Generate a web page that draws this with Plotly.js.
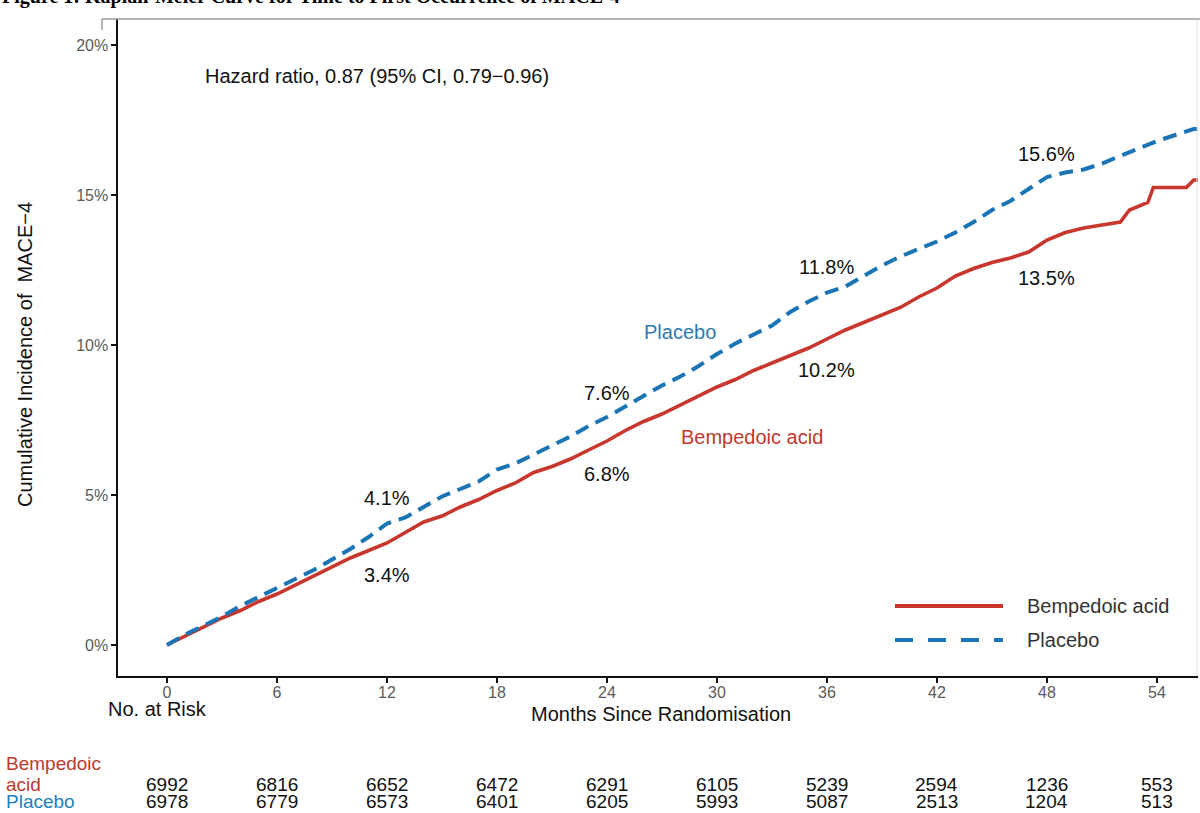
<!DOCTYPE html>
<html>
<head>
<meta charset="utf-8">
<script src="https://cdn.plot.ly/plotly-3.0.1.min.js"></script>
<style>html,body{margin:0;padding:0;background:#fff;}#chart{width:1200px;height:813px;}</style>
</head>
<body>
<div id="chart"></div>
<script>
// ---- Data ----
const bempMonths = [0,1,2,3,4,5,6,7,8,9,10,11,12,13,14,15,16,17,18,19,20,21,22,23,24,25,26,27,28,29,30,31,32,33,34,35,36,37,38,39,40,41,42,43,44,45,46,47,47.8,48,49,50,51,52,52.5,53.5,53.8,55.6,56.0,56.4];
const bempPct    = [0,0.3,0.6,0.9,1.15,1.45,1.7,2.0,2.3,2.6,2.9,3.15,3.4,3.75,4.1,4.3,4.6,4.85,5.15,5.4,5.75,5.95,6.2,6.5,6.8,7.15,7.45,7.7,8.0,8.3,8.6,8.85,9.15,9.4,9.65,9.9,10.2,10.5,10.75,11.0,11.25,11.6,11.9,12.3,12.55,12.75,12.9,13.1,13.4,13.5,13.75,13.9,14.0,14.1,14.5,14.75,15.25,15.25,15.5,15.5];
const placMonths = [0,1,2,3,4,5,6,7,8,9,10,11,12,13,14,15,16,17,18,19,20,21,22,23,24,25,26,27,28,29,30,31,32,33,34,35,36,37,38,39,40,41,42,43,44,45,46,47,48,49,50,51,52,53,54,55,56,56.4];
const placPct    = [0,0.35,0.65,0.95,1.3,1.6,1.9,2.2,2.5,2.85,3.2,3.6,4.05,4.25,4.6,4.95,5.2,5.45,5.85,6.05,6.35,6.65,6.95,7.3,7.6,7.95,8.3,8.65,8.95,9.3,9.7,10.05,10.35,10.65,11.1,11.45,11.75,11.95,12.3,12.65,12.95,13.2,13.45,13.75,14.1,14.5,14.8,15.2,15.6,15.75,15.85,16.05,16.3,16.55,16.8,17.0,17.2,17.2];

const tickMonths = [0,6,12,18,24,30,36,42,48,54];
const yTicks = [0,5,10,15,20];
const riskBemp = [6992,6816,6652,6472,6291,6105,5239,2594,1236,553];
const riskPlac = [6978,6779,6573,6401,6205,5993,5087,2513,1204,513];

const landmarkMonths = [12,24,36,48];
const bempLandmark = [3.4,6.8,10.2,13.5];
const placLandmark = [4.1,7.6,11.8,15.6];

const seriesNames = ['Bempedoic acid','Placebo'];
const hrText = 'Hazard ratio, 0.87 (95% CI, 0.79\u22120.96)';
const figTitle = 'Figure 1: Kaplan-Meier Curve for Time to First Occurrence of MACE-4';

// ---- Styles ----
const RED = '#c8372d';
const BLUE = '#1b75b5';
const FONT = 'Liberation Sans, Arial, sans-serif';

const traces = [
  {x: bempMonths, y: bempPct, type:'scatter', mode:'lines', name: seriesNames[0],
   line:{color:RED, width:3.6, shape:'linear'}, showlegend:false, hoverinfo:'x+y'},
  {x: placMonths, y: placPct, type:'scatter', mode:'lines', name: seriesNames[1],
   line:{color:BLUE, width:4, dash:'14px,8px', shape:'linear'}, showlegend:false, hoverinfo:'x+y'}
];

const L = 118, T = 19, W = 1080, H = 657;
function px2paperX(px){ return (px - L)/W; }
function px2paperY(py){ return (T + H - py)/H; }

const ann = [];
// title (clipped at top as in the reference)
ann.push({xref:'paper', yref:'paper', x:px2paperX(0), y:px2paperY(-4), xanchor:'left', yanchor:'middle',
  text:'<b>'+figTitle+'</b>', showarrow:false, font:{family:'Liberation Serif, Times New Roman, serif', size:20, color:'#000'}});
// hazard ratio
ann.push({xref:'x', yref:'y', x:1.96, y:18.97, xanchor:'left', yanchor:'middle', text:hrText, showarrow:false,
  font:{family:FONT, size:20, color:'#111'}});
// landmark labels
const placOffsets = [0.8, 0.8, 0.8, 0.77];
const bempOffsets = [-1.07, -1.1, -1.03, -1.27];
landmarkMonths.forEach((m,i)=>{
  ann.push({xref:'x', yref:'y', x:m, y:placLandmark[i]+placOffsets[i], text:placLandmark[i].toFixed(1)+'%', showarrow:false,
    font:{family:FONT, size:20, color:'#111'}});
  ann.push({xref:'x', yref:'y', x:m, y:bempLandmark[i]+bempOffsets[i], text:bempLandmark[i].toFixed(1)+'%', showarrow:false,
    font:{family:FONT, size:20, color:'#111'}});
});
// in-plot series labels
ann.push({xref:'x', yref:'y', x:27.98, y:10.43, text:seriesNames[1], showarrow:false, font:{family:FONT, size:20, color:'#2e7bb0'}});
ann.push({xref:'x', yref:'y', x:31.9, y:6.93, text:seriesNames[0], showarrow:false, font:{family:FONT, size:20, color:'#c0392b'}});
// axis titles
ann.push({xref:'paper', yref:'paper', x:px2paperX(25), y:px2paperY(355), textangle:-90, text:'Cumulative Incidence of  MACE\u22124',
  showarrow:false, xanchor:'center', yanchor:'middle', font:{family:FONT, size:20, color:'#111'}});
ann.push({xref:'paper', yref:'paper', x:px2paperX(661), y:px2paperY(714), text:'Months Since Randomisation',
  showarrow:false, xanchor:'center', yanchor:'middle', font:{family:FONT, size:20, color:'#111'}});
// legend texts
ann.push({xref:'paper', yref:'paper', x:px2paperX(1025), y:px2paperY(606), xanchor:'left', yanchor:'middle', text:seriesNames[0],
  showarrow:false, font:{family:FONT, size:20, color:'#333'}});
ann.push({xref:'paper', yref:'paper', x:px2paperX(1025), y:px2paperY(640), xanchor:'left', yanchor:'middle', text:seriesNames[1],
  showarrow:false, font:{family:FONT, size:20, color:'#333'}});
// at-risk table
const TF = 19;
ann.push({xref:'paper', yref:'paper', x:px2paperX(106), y:px2paperY(709), xanchor:'left', yanchor:'middle', text:'No. at Risk',
  showarrow:false, font:{family:FONT, size:20, color:'#111'}});
ann.push({xref:'paper', yref:'paper', x:px2paperX(4), y:px2paperY(763), xanchor:'left', yanchor:'middle', text:'Bempedoic',
  showarrow:false, font:{family:FONT, size:TF, color:'#c0392b'}});
ann.push({xref:'paper', yref:'paper', x:px2paperX(4), y:px2paperY(784), xanchor:'left', yanchor:'middle', text:'acid',
  showarrow:false, font:{family:FONT, size:TF, color:'#c0392b'}});
ann.push({xref:'paper', yref:'paper', x:px2paperX(4), y:px2paperY(802), xanchor:'left', yanchor:'middle', text:seriesNames[1],
  showarrow:false, font:{family:FONT, size:TF, color:'#1f7fb5'}});
tickMonths.forEach((m,i)=>{
  ann.push({xref:'x', yref:'paper', x:m, y:px2paperY(784), yanchor:'middle', text:String(riskBemp[i]), showarrow:false,
    font:{family:FONT, size:TF, color:'#111'}});
  ann.push({xref:'x', yref:'paper', x:m, y:px2paperY(802), yanchor:'middle', text:String(riskPlac[i]), showarrow:false,
    font:{family:FONT, size:TF, color:'#111'}});
});

const shapes = [
  // frame fragments
  {type:'line', xref:'paper', yref:'paper', x0:px2paperX(102), x1:px2paperX(1200), y0:px2paperY(19), y1:px2paperY(19), line:{color:'#9a9a9a', width:1.5}},
  {type:'line', xref:'paper', yref:'paper', x0:px2paperX(102), x1:px2paperX(102), y0:px2paperY(19), y1:px2paperY(30), line:{color:'#9a9a9a', width:1.5}},
  {type:'line', xref:'paper', yref:'paper', x0:px2paperX(1197), x1:px2paperX(1197), y0:px2paperY(19), y1:px2paperY(676), line:{color:'#e2e2e2', width:1}},
  // legend samples
  {type:'line', xref:'paper', yref:'paper', x0:px2paperX(895), x1:px2paperX(1003), y0:px2paperY(606), y1:px2paperY(606), line:{color:RED, width:4}},
  {type:'line', xref:'paper', yref:'paper', x0:px2paperX(895), x1:px2paperX(1003), y0:px2paperY(640), y1:px2paperY(640), line:{color:BLUE, width:4, dash:'18px,15px'}}
];

const layout = {
  width:1200, height:813,
  margin:{l:L, r:1200-L-W, t:T, b:813-T-H, pad:0},
  paper_bgcolor:'#fff', plot_bgcolor:'#fff',
  font:{family:FONT, color:'#111'},
  showlegend:false,
  xaxis:{
    range:[-49/18.333, (1198-167)/18.333], tickvals:tickMonths, ticktext:tickMonths.map(String),
    showgrid:false, zeroline:false, showline:true, linecolor:'#111', linewidth:1.6,
    ticks:'outside', ticklen:5, tickwidth:1.4, tickcolor:'#111', ticklabelstandoff:-4,
    tickfont:{family:FONT, size:16, color:'#5a5a5a'}
  },
  yaxis:{
    range:[-31/30, (645-19)/30], tickvals:yTicks, ticktext:yTicks.map(v=>v+'%'),
    showgrid:false, zeroline:false, showline:true, linecolor:'#111', linewidth:1.6,
    ticks:'outside', ticklen:5, tickwidth:1.4, tickcolor:'#111',
    tickfont:{family:FONT, size:16, color:'#5a5a5a'}
  },
  annotations:ann,
  shapes:shapes
};

Plotly.newPlot('chart', traces, layout, {displayModeBar:false, staticPlot:true});
</script>
</body>
</html>
